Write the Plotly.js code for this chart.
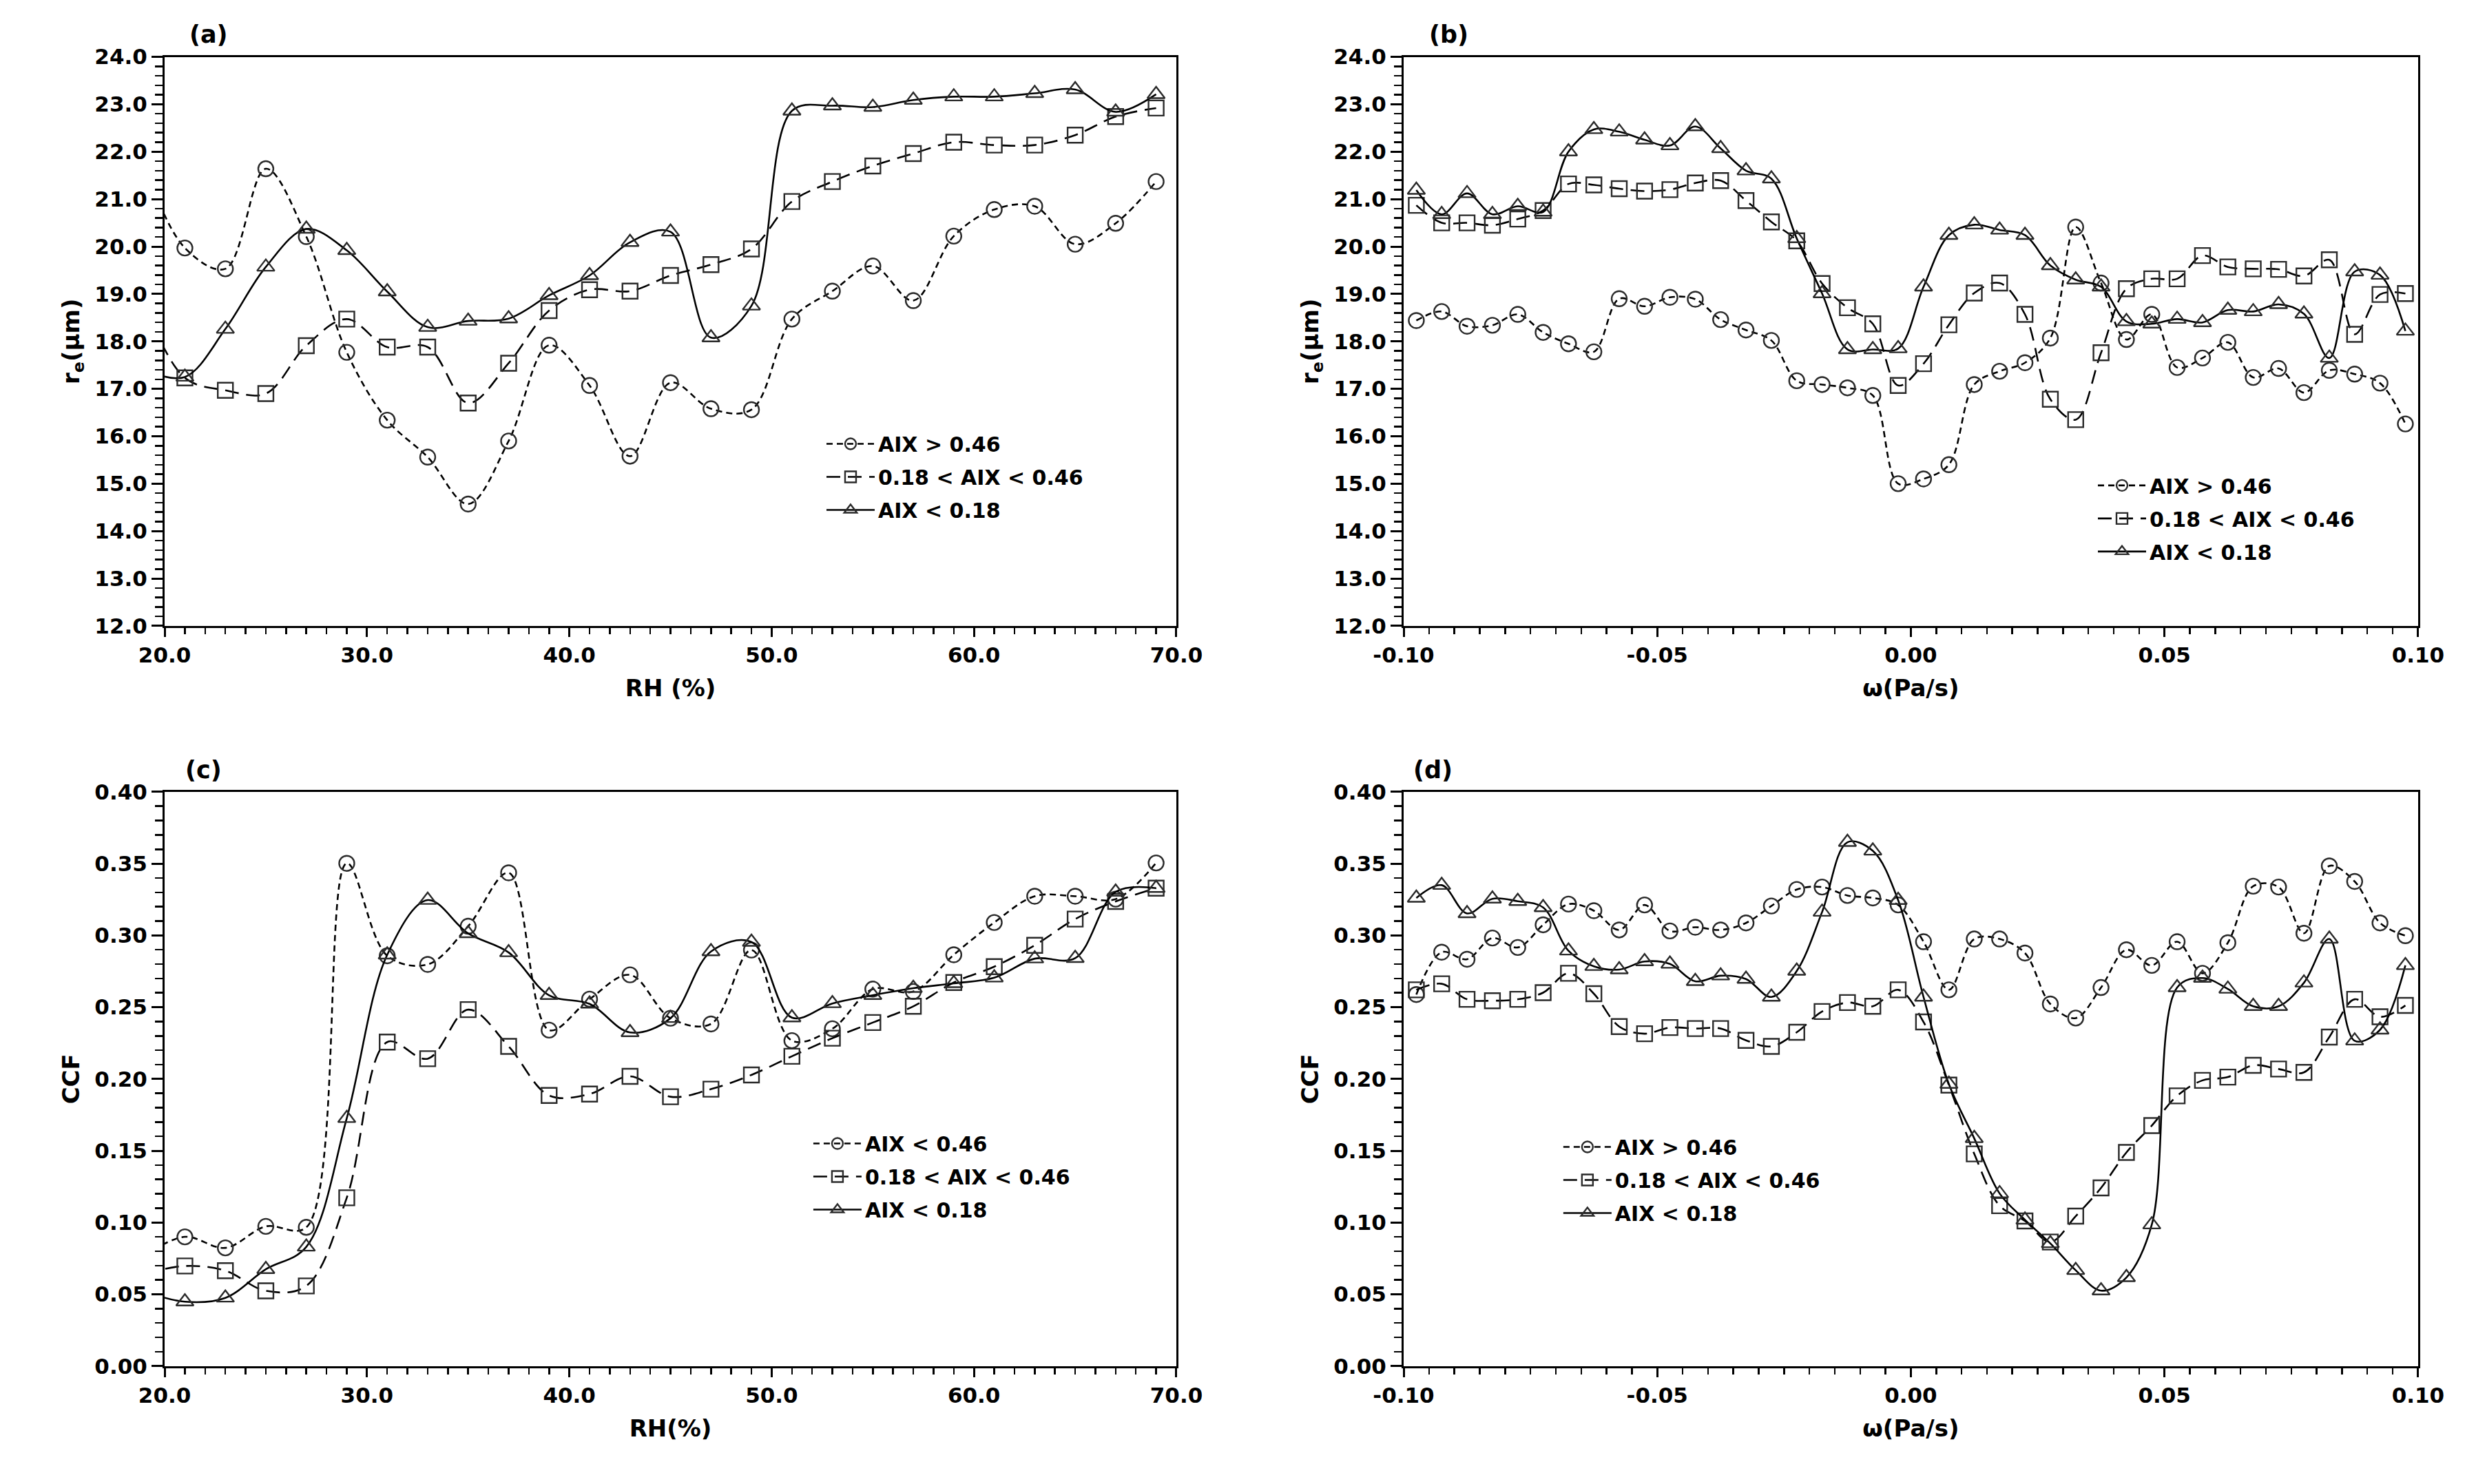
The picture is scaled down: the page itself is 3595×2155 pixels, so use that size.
<!DOCTYPE html>
<html>
<head>
<meta charset="utf-8">
<script src="https://cdn.plot.ly/plotly-3.0.1.min.js"></script>
<style>html,body{margin:0;padding:0;background:#fff;}#chart{width:3595px;height:2155px;}</style>
</head>
<body>
<div id="chart"></div>
<script>
// ---------- DATA ----------
const seriesNames = ['AIX > 0.46', '0.18 < AIX < 0.46', 'AIX < 0.18'];
const seriesNamesC = ['AIX < 0.46', '0.18 < AIX < 0.46', 'AIX < 0.18'];

// RH bins (%), panels (a) and (c)
const rhBins = [19, 21, 23, 25, 27, 29, 31, 33, 35, 37, 39, 41, 43, 45, 47, 49, 51, 53, 55, 57, 59, 61, 63, 65, 67, 69];

// omega bins (Pa/s), panels (b) and (d)
const omegaBins = [-0.0975, -0.0925, -0.0875, -0.0825, -0.0775, -0.0725, -0.0675, -0.0625, -0.0575, -0.0525,
                   -0.0475, -0.0425, -0.0375, -0.0325, -0.0275, -0.0225, -0.0175, -0.0125, -0.0075, -0.0025,
                    0.0025,  0.0075,  0.0125,  0.0175,  0.0225,  0.0275,  0.0325,  0.0375,  0.0425,  0.0475,
                    0.0525,  0.0575,  0.0625,  0.0675,  0.0725,  0.0775,  0.0825,  0.0875,  0.0925,  0.0975];

// (a) effective radius vs RH
const reA_high = [21.7, 19.97, 19.53, 21.64, 20.21, 17.77, 16.34, 15.56, 14.57, 15.90, 17.92, 17.07, 15.58, 17.13, 16.58, 16.56, 18.47, 19.06, 19.59, 18.86, 20.22, 20.78, 20.85, 20.05, 20.49, 21.37];
const reA_mid  = [18.8, 17.23, 16.97, 16.90, 17.91, 18.47, 17.88, 17.88, 16.70, 17.54, 18.65, 19.09, 19.06, 19.39, 19.62, 19.95, 20.95, 21.37, 21.70, 21.96, 22.20, 22.14, 22.14, 22.35, 22.74, 22.92];
const reA_low  = [17.4, 17.25, 18.26, 19.57, 20.37, 19.92, 19.05, 18.30, 18.43, 18.48, 18.97, 19.39, 20.09, 20.31, 18.08, 18.75, 22.86, 22.97, 22.94, 23.09, 23.16, 23.16, 23.23, 23.31, 22.84, 23.21];

// (b) effective radius vs omega
const reB_high = [18.44, 18.63, 18.32, 18.34, 18.57, 18.19, 17.95, 17.78, 18.90, 18.74, 18.93, 18.89, 18.46, 18.24, 18.02, 17.17, 17.09, 17.02, 16.86, 15.00,
                  15.10, 15.40, 17.09, 17.37, 17.55, 18.07, 20.41, 19.23, 18.04, 18.57, 17.45, 17.65, 17.98, 17.24, 17.43, 16.92, 17.39, 17.31, 17.12, 16.26];
const reB_mid  = [20.87, 20.50, 20.50, 20.45, 20.58, 20.76, 21.32, 21.30, 21.22, 21.17, 21.20, 21.34, 21.39, 20.97, 20.52, 20.12, 19.22, 18.71, 18.37, 17.07,
                  17.53, 18.35, 19.02, 19.23, 18.57, 16.78, 16.35, 17.76, 19.11, 19.32, 19.32, 19.81, 19.57, 19.53, 19.52, 19.38, 19.72, 18.15, 18.99, 19.01];
const reB_low  = [21.19, 20.68, 21.12, 20.68, 20.85, 20.73, 22.00, 22.47, 22.42, 22.25, 22.13, 22.53, 22.07, 21.60, 21.43, 20.17, 19.01, 17.83, 17.83, 17.85,
                  19.15, 20.24, 20.46, 20.35, 20.24, 19.60, 19.30, 19.15, 18.42, 18.37, 18.47, 18.40, 18.66, 18.63, 18.78, 18.58, 17.65, 19.47, 19.40, 18.22];

// (c) cloud cover fraction vs RH
const ccfC_high = [0.077, 0.090, 0.0823, 0.0973, 0.0966, 0.3502, 0.2858, 0.2798, 0.3064, 0.3436, 0.2340, 0.2556, 0.2725, 0.2423, 0.2383, 0.2898, 0.2267, 0.2350, 0.2626, 0.2609, 0.2865, 0.3090, 0.3273, 0.3273, 0.3253, 0.3505];
const ccfC_mid  = [0.064, 0.0697, 0.0664, 0.0524, 0.0558, 0.1172, 0.2257, 0.2141, 0.2483, 0.2227, 0.1885, 0.1895, 0.2018, 0.1876, 0.1929, 0.2028, 0.2158, 0.2284, 0.2393, 0.2506, 0.2672, 0.2782, 0.2931, 0.3114, 0.3237, 0.3329];
const ccfC_low  = [0.052, 0.0448, 0.0475, 0.0674, 0.0830, 0.1726, 0.2865, 0.3246, 0.3014, 0.2881, 0.2583, 0.2523, 0.2324, 0.2423, 0.2888, 0.2954, 0.2427, 0.2526, 0.2583, 0.2632, 0.2666, 0.2705, 0.2838, 0.2841, 0.3303, 0.3329];

// (d) cloud cover fraction vs omega
const ccfD_high = [0.2588, 0.2883, 0.2834, 0.2982, 0.2916, 0.3074, 0.3218, 0.3172, 0.3038, 0.3212, 0.3031, 0.3057, 0.3038, 0.3087, 0.3205, 0.3320, 0.3337, 0.3278, 0.3261, 0.3212,
                   0.2956, 0.2621, 0.2975, 0.2975, 0.2877, 0.2522, 0.2424, 0.2637, 0.2900, 0.2791, 0.2956, 0.2736, 0.2949, 0.3343, 0.3337, 0.3015, 0.3484, 0.3376, 0.3087, 0.2998];
const ccfD_mid  = [0.2621, 0.2663, 0.2555, 0.2545, 0.2555, 0.2601, 0.2736, 0.2594, 0.2365, 0.2315, 0.2358, 0.2351, 0.2351, 0.2269, 0.2227, 0.2325, 0.2470, 0.2532, 0.2506, 0.2621,
                   0.2397, 0.1957, 0.1478, 0.1117, 0.1011, 0.0864, 0.1044, 0.1241, 0.1488, 0.1675, 0.1882, 0.1990, 0.2013, 0.2095, 0.2069, 0.2046, 0.2292, 0.2555, 0.2433, 0.2512];
const ccfD_low  = [0.3261, 0.3350, 0.3153, 0.3255, 0.3238, 0.3195, 0.2893, 0.2785, 0.2762, 0.2818, 0.2801, 0.2680, 0.2719, 0.2696, 0.2571, 0.2752, 0.3163, 0.3649, 0.3589, 0.3245,
                   0.2571, 0.1964, 0.1586, 0.1202, 0.1018, 0.0854, 0.0667, 0.0525, 0.0617, 0.0985, 0.2637, 0.2703, 0.2627, 0.2506, 0.2506, 0.2670, 0.2975, 0.2266, 0.2342, 0.2791];

// tick labels
const omegaTickVals = [-0.10, -0.05, 0.00, 0.05, 0.10];
const omegaTickText = ['-0.10', '-0.05', '0.00', '0.05', '0.10'];
const panelLabels = ['(a)', '(b)', '(c)', '(d)'];

// ---------- STYLE ----------
const FONT = 'DejaVu Sans, Verdana, sans-serif';
const styles = [
  {symbol: 'circle-open', dash: '9px,6px'},
  {symbol: 'square-open', dash: '20px,11px'},
  {symbol: 'triangle-up-open', dash: 'solid'}
];

function mk(x, y, idx, name, xa, ya, leg) {
  return {
    type: 'scatter', mode: 'lines+markers', x: x, y: y, name: name,
    xaxis: xa, yaxis: ya, legend: leg, legendgroup: leg + idx,
    line: {color: '#000', width: 2.6, dash: styles[idx].dash, shape: 'spline', smoothing: 1},
    marker: {symbol: styles[idx].symbol, size: 22, color: '#2a2a2a', line: {width: 2.4, color: '#2a2a2a'}},
    cliponaxis: true
  };
}

const traces = [];
[reA_high, reA_mid, reA_low].forEach((s, i) => traces.push(mk(rhBins, s, i, seriesNames[i], 'x', 'y', 'legend')));
[reB_high, reB_mid, reB_low].forEach((s, i) => traces.push(mk(omegaBins, s, i, seriesNames[i], 'x2', 'y2', 'legend2')));
[ccfC_high, ccfC_mid, ccfC_low].forEach((s, i) => traces.push(mk(rhBins, s, i, seriesNamesC[i], 'x3', 'y3', 'legend3')));
[ccfD_high, ccfD_mid, ccfD_low].forEach((s, i) => traces.push(mk(omegaBins, s, i, seriesNames[i], 'x4', 'y4', 'legend4')));

const tickFont = {family: FONT, size: 31, color: '#000', weight: 'bold'};
const titleFont = {family: FONT, size: 34, color: '#000', weight: 'bold'};

function axis(extra) {
  return Object.assign({
    showline: true, linewidth: 3, linecolor: '#000', mirror: true,
    ticks: 'outside', tickwidth: 3, ticklen: 13, tickcolor: '#000',
    showgrid: false, zeroline: false, automargin: false,
    tickfont: tickFont, fixedrange: true
  }, extra);
}

const domAx = [0.0665, 0.4751], domBx = [0.5669, 0.9766];
const domTop = [0.5782, 0.9617], domBot = [0.0795, 0.4664];

const minorRH = {ticks: 'outside', dtick: 1, ticklen: 9, tickwidth: 2.5, tickcolor: '#000'};
const minorW = {ticks: 'outside', dtick: 0.005, ticklen: 9, tickwidth: 2.5, tickcolor: '#000'};
const minorRe = {ticks: 'outside', dtick: 0.2, ticklen: 11, tickwidth: 2.5, tickcolor: '#000'};
const minorCCF = {ticks: 'outside', dtick: 0.01, ticklen: 11, tickwidth: 2.5, tickcolor: '#000'};

function legendAt(x, y) {
  return {x: x, y: y, xanchor: 'left', yanchor: 'top', bgcolor: 'rgba(0,0,0,0)', borderwidth: 0,
          font: {family: FONT, size: 30, color: '#000', weight: 'bold'}, itemwidth: 70, tracegroupgap: 6,
          itemclick: false, itemdoubleclick: false};
}

const layout = {
  width: 3595, height: 2155,
  margin: {l: 0, r: 0, t: 0, b: 0},
  paper_bgcolor: '#fff', plot_bgcolor: '#fff',
  font: {family: FONT, color: '#000'},
  xaxis: axis({domain: domAx, anchor: 'y', range: [20, 70], dtick: 10, tickformat: '.1f', minor: minorRH,
    title: {text: 'RH (%)', font: titleFont, standoff: 20}}),
  yaxis: axis({domain: domTop, anchor: 'x', range: [12, 24], dtick: 1, tickformat: '.1f', minor: minorRe, ticklen: 16,
    title: {text: 'r<sub>e</sub>(μm)', font: titleFont, standoff: 12}}),
  xaxis2: axis({domain: domBx, anchor: 'y2', range: [-0.1, 0.1], tickmode: 'array', tickvals: omegaTickVals, ticktext: omegaTickText, minor: minorW,
    title: {text: 'ω(Pa/s)', font: titleFont, standoff: 20}}),
  yaxis2: axis({domain: domTop, anchor: 'x2', range: [12, 24], dtick: 1, tickformat: '.1f', minor: minorRe, ticklen: 16,
    title: {text: 'r<sub>e</sub>(μm)', font: titleFont, standoff: 12}}),
  xaxis3: axis({domain: domAx, anchor: 'y3', range: [20, 70], dtick: 10, tickformat: '.1f', minor: minorRH,
    title: {text: 'RH(%)', font: titleFont, standoff: 20}}),
  yaxis3: axis({domain: domBot, anchor: 'x3', range: [0, 0.4], dtick: 0.05, tickformat: '.2f', minor: minorCCF, ticklen: 16,
    title: {text: 'CCF', font: titleFont, standoff: 12}}),
  xaxis4: axis({domain: domBx, anchor: 'y4', range: [-0.1, 0.1], tickmode: 'array', tickvals: omegaTickVals, ticktext: omegaTickText, minor: minorW,
    title: {text: 'ω(Pa/s)', font: titleFont, standoff: 20}}),
  yaxis4: axis({domain: domBot, anchor: 'x4', range: [0, 0.4], dtick: 0.05, tickformat: '.2f', minor: minorCCF, ticklen: 16,
    title: {text: 'CCF', font: titleFont, standoff: 12}}),
  legend: legendAt(0.3324, 0.7130),
  legend2: legendAt(0.8459, 0.6850),
  legend3: legendAt(0.3271, 0.2415),
  legend4: legendAt(0.6300, 0.2392),
  annotations: [
    {text: panelLabels[0], x: 0.0843, y: 0.9768},
    {text: panelLabels[1], x: 0.5850, y: 0.9768},
    {text: panelLabels[2], x: 0.0821, y: 0.4812},
    {text: panelLabels[3], x: 0.5786, y: 0.4812}
  ].map(a => Object.assign({xref: 'paper', yref: 'paper', showarrow: false, xanchor: 'center', yanchor: 'middle',
    font: {family: FONT, size: 35, color: '#000', weight: 'bold'}}, a)),
  showlegend: true
};

Plotly.newPlot('chart', traces, layout, {displayModeBar: false, staticPlot: true});
</script>
</body>
</html>
